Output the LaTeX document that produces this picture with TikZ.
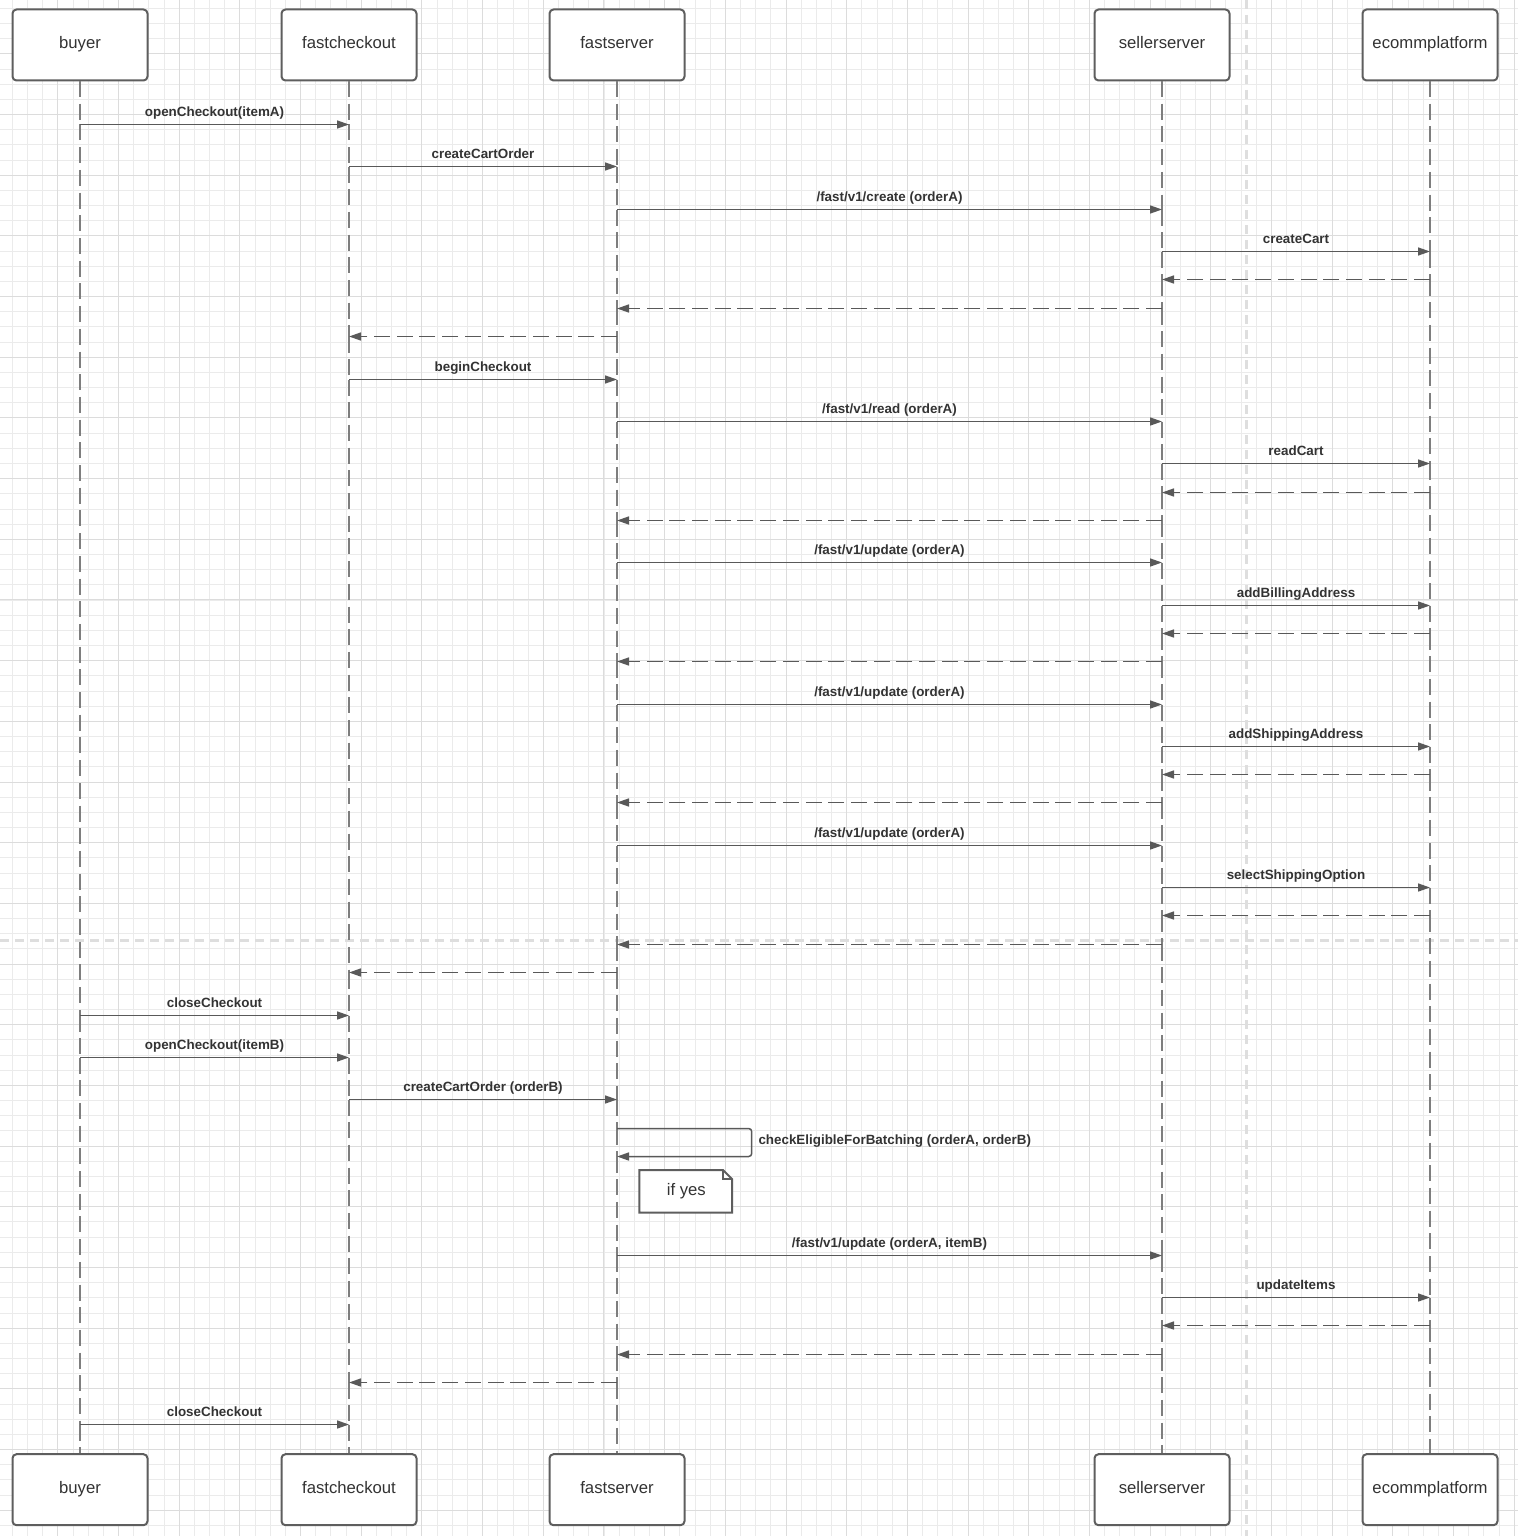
\documentclass[tikz,border=0pt]{standalone}
\usepackage{fontspec}
\setmainfont{Liberation Sans}
\usetikzlibrary{arrows.meta}

\definecolor{boxline}{HTML}{5E5E5E}
\definecolor{msgcol}{HTML}{595959}
\definecolor{lifecol}{HTML}{7E7E7E}
\definecolor{txtcol}{HTML}{333333}
\definecolor{gridminor}{HTML}{EBEBEB}
\definecolor{gridmajor}{HTML}{DCDCDC}
\definecolor{pagebreak}{HTML}{DEDEDE}

\tikzset{
  actor/.style={draw=boxline, line width=2pt, rounded corners=4pt, fill=white,
    minimum width=135pt, minimum height=71pt, inner sep=0pt,
    text height=10pt, text depth=3.4pt, text=txtcol, font=\fontsize{16.7}{18}\selectfont},
  life/.style={draw=lifecol, line width=2pt, dash pattern=on 16pt off 6.7pt},
  msgline/.style={draw=msgcol, line width=1.5pt, -{Triangle[length=12pt,width=8pt]}},
  retline/.style={msgline, dash pattern=on 16pt off 6.7pt},
  msglabel/.style={anchor=base, yshift=8.3pt, text=txtcol, inner sep=0pt,
    font=\fontsize{13.4}{15}\selectfont\bfseries},
  notebox/.style={draw=boxline, line width=2pt, fill=white, line join=miter},
  breakline/.style={draw=pagebreak, line width=3pt, dash pattern=on 9pt off 6pt}
}

% message helpers: source node, target node, y position, label
\newcommand\callmsg[4]{\draw[msgline] (#1 |- 0,#3) -- (#2 |- 0,#3) node[msglabel, midway]{#4};}
\newcommand\retmsg[3]{\draw[retline] (#1 |- 0,#3) -- (#2 |- 0,#3);}
% lifeline dashes restart at every point where a message touches it
\newcommand\lifeline[2]{%
  \foreach \b [remember=\b as \a (initially 81)] in {#2}
    \draw[life] (#1 |- 0,\a) -- (#1 |- 0,\b);}

\begin{document}
\begin{tikzpicture}[x=1pt, y=-1pt]
\useasboundingbox (0,0) rectangle (1518,1536);
\fill[white] (0,0) rectangle (1518,1536);

% background grid, lines snapped to whole units
\begin{scope}
  \clip (0,0) rectangle (1518,1536);
  \foreach \k in {0,...,100} {
    \pgfmathsetmacro\gx{floor(12.4+15.17*\k)+0.5}
    \pgfmathsetmacro\gy{floor(8.4+15.17*\k)+0.5}
    \draw[gridminor, line width=1pt] (\gx,0) -- (\gx,1536);
    \draw[gridminor, line width=1pt] (0,\gy) -- (1518,\gy);
  }
  \foreach \k in {0,...,26} {
    \pgfmathsetmacro\gx{floor(-2.8+60.68*\k)+0.5}
    \pgfmathsetmacro\gy{floor(-6.8+60.68*\k)+0.5}
    \draw[gridmajor, line width=1pt] (\gx,0) -- (\gx,1536);
    \draw[gridmajor, line width=1pt] (0,\gy) -- (1518,\gy);
  }
  % page-break guides
  \draw[breakline] (0,940.5) -- (1518,940.5);
  \draw[breakline] (1246,0) -- (1246,1536);
\end{scope}

% participants
\node[actor] (buyerT) at (80,45) {buyer};
\node[actor] (fcT)    at (349,45) {fastcheckout};
\node[actor] (fsT)    at (617,45) {fastserver};
\node[actor] (ssT)    at (1162,45) {sellerserver};
\node[actor] (ecT)    at (1430,45) {ecommplatform};

% lifelines
\lifeline{buyerT}{124.5,1015.5,1057.5,1424.5,1454}
\lifeline{fcT}{124.5,166.5,336.5,379.5,972.5,1015.5,1057.5,1099.5,1382.5,1424.5,1454}
\lifeline{fsT}{166.5,209.5,308.5,336.5,379.5,421.5,520.5,562.5,661.5,704.5,802.5,845.5,944.5,972.5,1099.5,1128.5,1156.5,1255.5,1354.5,1382.5,1454}
\lifeline{ssT}{209.5,251.5,279.5,308.5,421.5,463.5,492.5,520.5,562.5,605.5,633.5,661.5,704.5,746.5,774.5,802.5,845.5,887.5,915.5,944.5,1255.5,1297.5,1325.5,1354.5,1454}
\lifeline{ecT}{251.5,279.5,463.5,492.5,605.5,633.5,746.5,774.5,887.5,915.5,1297.5,1325.5,1454}

% bottom participants
\node[actor] (buyerB) at (80,1489.7) {buyer};
\node[actor] (fcB)    at (349,1489.7) {fastcheckout};
\node[actor] (fsB)    at (617,1489.7) {fastserver};
\node[actor] (ssB)    at (1162,1489.7) {sellerserver};
\node[actor] (ecB)    at (1430,1489.7) {ecommplatform};

% order A
\callmsg{buyerT}{fcT}{124.5}{openCheckout(itemA)}
\callmsg{fcT}{fsT}{166.5}{createCartOrder}
\callmsg{fsT}{ssT}{209.5}{/fast/v1/create (orderA)}
\callmsg{ssT}{ecT}{251.5}{createCart}
\retmsg{ecT}{ssT}{279.5}
\retmsg{ssT}{fsT}{308.5}
\retmsg{fsT}{fcT}{336.5}
\callmsg{fcT}{fsT}{379.5}{beginCheckout}
\callmsg{fsT}{ssT}{421.5}{/fast/v1/read (orderA)}
\callmsg{ssT}{ecT}{463.5}{readCart}
\retmsg{ecT}{ssT}{492.5}
\retmsg{ssT}{fsT}{520.5}
\callmsg{fsT}{ssT}{562.5}{/fast/v1/update (orderA)}
\callmsg{ssT}{ecT}{605.5}{addBillingAddress}
\retmsg{ecT}{ssT}{633.5}
\retmsg{ssT}{fsT}{661.5}
\callmsg{fsT}{ssT}{704.5}{/fast/v1/update (orderA)}
\callmsg{ssT}{ecT}{746.5}{addShippingAddress}
\retmsg{ecT}{ssT}{774.5}
\retmsg{ssT}{fsT}{802.5}
\callmsg{fsT}{ssT}{845.5}{/fast/v1/update (orderA)}
\callmsg{ssT}{ecT}{887.5}{selectShippingOption}
\retmsg{ecT}{ssT}{915.5}
\retmsg{ssT}{fsT}{944.5}
\retmsg{fsT}{fcT}{972.5}
\callmsg{buyerT}{fcT}{1015.5}{closeCheckout}

% order B
\callmsg{buyerT}{fcT}{1057.5}{openCheckout(itemB)}
\callmsg{fcT}{fsT}{1099.5}{createCartOrder (orderB)}

% self call
\coordinate (loopTop) at (751.7,1128.5);
\coordinate (loopBot) at (751.7,1156.5);
\draw[msgline, rounded corners=3pt] (fsT |- loopTop) -- (loopTop) -- (loopBot) -- (fsT |- loopBot);
\node[anchor=base west, inner sep=0pt, text=txtcol, font=\fontsize{13.4}{15}\selectfont\bfseries]
  (loopLabel) at (758.3,1144.5) {checkEligibleForBatching (orderA, orderB)};

% note
\draw[notebox] (639.3,1170) -- (723,1170) -- (732,1179) -- (732,1212.7) -- (639.3,1212.7) -- cycle;
\draw[draw=boxline, line width=1.4pt] (723,1170) -- (723,1179) -- (732,1179);
\node[anchor=base, inner sep=0pt, text=txtcol, font=\fontsize{16.7}{18}\selectfont]
  (noteText) at (686.3,1195) {if yes};

\callmsg{fsT}{ssT}{1255.5}{/fast/v1/update (orderA, itemB)}
\callmsg{ssT}{ecT}{1297.5}{updateItems}
\retmsg{ecT}{ssT}{1325.5}
\retmsg{ssT}{fsT}{1354.5}
\retmsg{fsT}{fcT}{1382.5}
\callmsg{buyerT}{fcT}{1424.5}{closeCheckout}

\end{tikzpicture}
\end{document}
